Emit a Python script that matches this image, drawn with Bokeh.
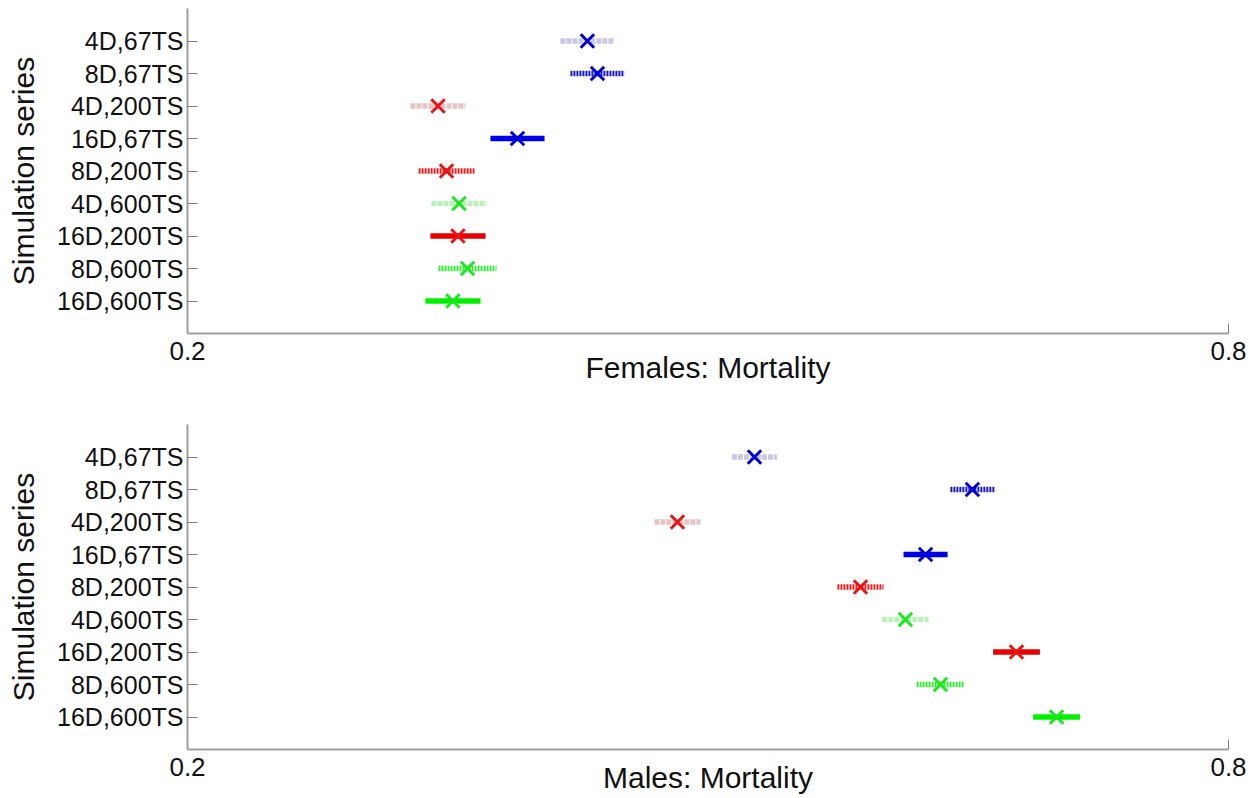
from bokeh.plotting import figure
from bokeh.layouts import column
from bokeh.models import FactorRange, FixedTicker, ColumnDataSource
from bokeh.embed import file_html
from bokeh.resources import INLINE

# ---------------- data ----------------
categories = ["4D,67TS", "8D,67TS", "4D,200TS", "16D,67TS", "8D,200TS",
              "4D,600TS", "16D,200TS", "8D,600TS", "16D,600TS"]

female_mean = [0.4305, 0.4363, 0.3444, 0.3902, 0.3493, 0.3565, 0.3559, 0.3614, 0.3530]
female_half = [0.0156, 0.0156, 0.0159, 0.0156, 0.0161, 0.0159, 0.0159, 0.0167, 0.0159]

male_mean = [0.5268, 0.6524, 0.4824, 0.6254, 0.5879, 0.6138, 0.6778, 0.6340, 0.7009]
male_half = [0.0130, 0.0127, 0.0133, 0.0127, 0.0133, 0.0133, 0.0135, 0.0138, 0.0135]

x_ticks = [0.2, 0.8]
panel_titles = ["Females: Mortality", "Males: Mortality"]
y_title = "Simulation series"

# style lookup by domain size / time steps
bar_color = {
    ("4D", "67TS"): "#c8c8e2", ("4D", "200TS"): "#e6c3c3", ("4D", "600TS"): "#bdeebd",
    ("8D", "67TS"): "#1c1cb4", ("8D", "200TS"): "#dc2828", ("8D", "600TS"): "#3ce63c",
    ("16D", "67TS"): "#0000e6", ("16D", "200TS"): "#e60000", ("16D", "600TS"): "#00f000",
}
bar_dash = {"4D": "5 1", "8D": "2 1", "16D": "solid"}
marker_color = {"67TS": "#0000d2", "200TS": "#e61414", "600TS": "#1ee61e"}

FONT = "Liberation Sans"


def make_panel(means, halves, xlabel, top_border, bottom_border, label_standoff):
    yr = FactorRange(*list(reversed(categories)), range_padding=0.5,
                     range_padding_units="absolute")
    p = figure(y_range=yr, x_range=(0.2, 0.8),
               frame_width=1041, frame_height=325,
               min_border_left=187, min_border_right=29,
               min_border_top=top_border, min_border_bottom=bottom_border,
               output_backend="svg", toolbar_location=None,
               background_fill_color="white", border_fill_color="white")
    p.outline_line_color = None
    p.grid.visible = False

    for cat, m, h in zip(categories, means, halves):
        d, ts = cat.split(",")
        src = ColumnDataSource(dict(x0=[m - h], x1=[m + h], y=[cat], xm=[m]))
        p.segment(x0="x0", x1="x1", y0="y", y1="y", source=src,
                  line_color=bar_color[(d, ts)], line_width=5.5,
                  line_dash=bar_dash[d], line_cap="butt")
        p.scatter(x="xm", y="y", source=src, marker="x", size=19,
                  line_color=marker_color[ts], line_width=3)

    xa = p.xaxis[0]
    xa.ticker = FixedTicker(ticks=x_ticks)
    xa.minor_tick_line_color = None
    xa.major_tick_in = 10
    xa.major_tick_out = 0
    xa.axis_line_color = "#a0a0a0"
    xa.axis_line_width = 2
    xa.major_tick_line_color = "#808080"
    xa.major_label_text_font = FONT
    xa.major_label_text_font_size = "26px"
    xa.major_label_text_color = "#111111"
    xa.major_label_standoff = 8
    xa.axis_label = xlabel
    xa.axis_label_text_font = FONT
    xa.axis_label_text_font_size = "30px"
    xa.axis_label_text_font_style = "normal"
    xa.axis_label_text_color = "#111111"
    xa.axis_label_standoff = label_standoff

    ya = p.yaxis[0]
    ya.major_tick_in = 10
    ya.major_tick_out = 0
    ya.axis_line_color = "#a0a0a0"
    ya.axis_line_width = 2
    ya.major_tick_line_color = "#808080"
    ya.major_label_text_font = FONT
    ya.major_label_text_font_size = "25px"
    ya.major_label_text_color = "#111111"
    ya.major_label_standoff = 4
    ya.axis_label = y_title
    ya.axis_label_text_font = FONT
    ya.axis_label_text_font_size = "30px"
    ya.axis_label_text_font_style = "normal"
    ya.axis_label_text_color = "#111111"
    ya.axis_label_standoff = 14
    return p


p1 = make_panel(female_mean, female_half, panel_titles[0], 8, 66, -12)
p2 = make_panel(male_mean, male_half, panel_titles[1], 25, 49, -18)
p = column(p1, p2, spacing=0)

open("out.html", "w").write(file_html(p, INLINE))
